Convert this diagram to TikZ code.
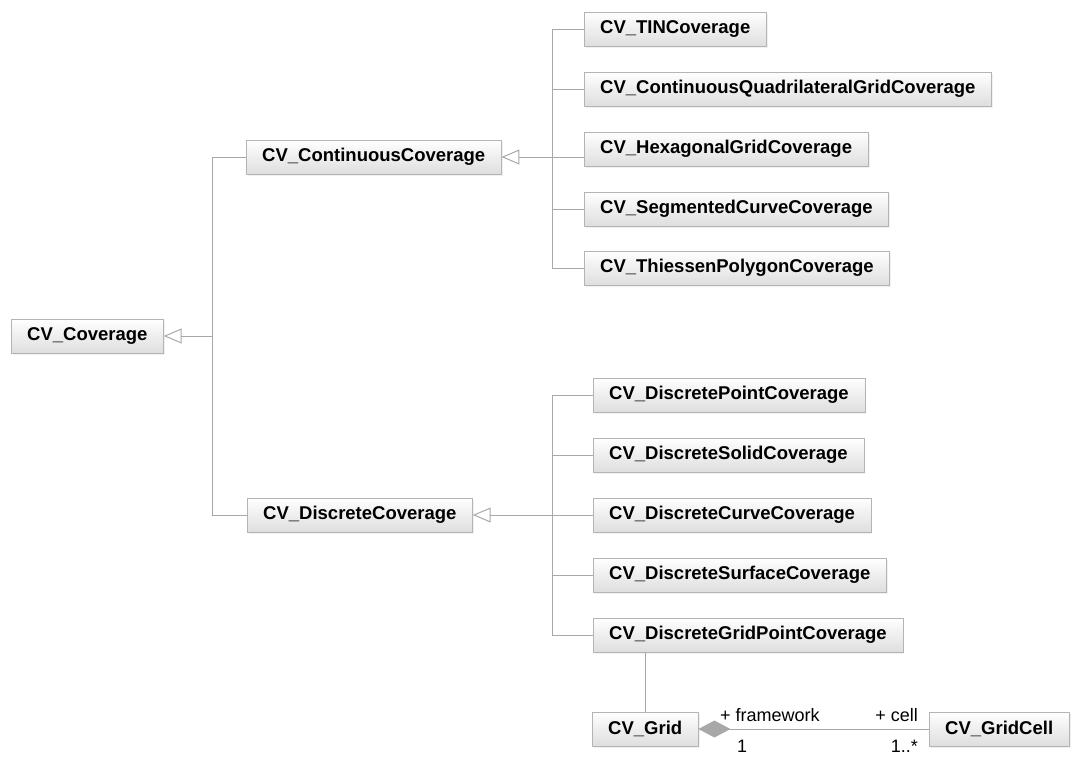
\documentclass[tikz,border=0pt]{standalone}
\usepackage{fontspec}
\setmainfont{Liberation Sans}
\usetikzlibrary{arrows.meta,shadows}
\definecolor{UML_Line}{HTML}{A8A8A8}
\definecolor{UML_Border}{HTML}{B4B4B4}

\begin{document}
\begin{tikzpicture}[x=1pt, y=-1pt,
    cls/.style={draw=UML_Border, top color=white, bottom color=black!13, anchor=west,
      minimum height=34pt, inner xsep=16pt, font=\fontsize{18.5}{20}\selectfont\bfseries,
      drop shadow={opacity=0.12, shadow xshift=1.5pt, shadow yshift=-1.5pt}},
    link/.style={draw=UML_Line, line width=1pt},
    gen/.style={link, -{Triangle[open, length=18pt, width=15pt]}},
    agg/.style={link, {Diamond[length=32pt, width=17pt]}-},
    role/.style={font=\fontsize{18}{20}\selectfont, inner sep=0pt}]
    \useasboundingbox (0,0) rectangle (1075,756);

    % Root class
    \node[cls] (cov) at (11,336) {CV\_Coverage};

    % Second level
    \node[cls] (ccov) at (246,157) {CV\_ContinuousCoverage};
    \node[cls] (dcov) at (247,515) {CV\_DiscreteCoverage};

    % Continuous coverages
    \node[cls] (tin)  at (584,29)  {CV\_TINCoverage};
    \node[cls] (cqgc) at (584,89)  {CV\_ContinuousQuadrilateralGridCoverage};
    \node[cls] (hex)  at (584,149) {CV\_HexagonalGridCoverage};
    \node[cls] (seg)  at (584,209) {CV\_SegmentedCurveCoverage};
    \node[cls] (thi)  at (584,268) {CV\_ThiessenPolygonCoverage};

    % Discrete coverages
    \node[cls] (dpt)  at (593,395) {CV\_DiscretePointCoverage};
    \node[cls] (dsol) at (593,455) {CV\_DiscreteSolidCoverage};
    \node[cls] (dcur) at (593,515) {CV\_DiscreteCurveCoverage};
    \node[cls] (dsrf) at (593,575) {CV\_DiscreteSurfaceCoverage};
    \node[cls] (dgp)  at (593,635) {CV\_DiscreteGridPointCoverage};

    % Grid
    \node[cls] (grid) at (592,729) {CV\_Grid};
    \node[cls] (cell) at (929,729) {CV\_GridCell};

    % Generalisation buses
    \coordinate (covbus)  at (212,336);
    \coordinate (ccovbus) at (552,157);
    \coordinate (dcovbus) at (552,515);

    \draw[gen] (covbus) -- (cov.east);
    \draw[link] (ccov.west) -- (ccov.west -| covbus) -- (dcov.west -| covbus) -- (dcov.west);

    \draw[gen] (ccovbus) -- (ccov.east);
    \draw[link] (tin.west) -- (tin.west -| ccovbus) -- (thi.west -| ccovbus) -- (thi.west);
    \foreach \n in {cqgc,seg}
        \draw[link] (\n.west) -- (\n.west -| ccovbus);
    \draw[link] (ccovbus) -- (ccovbus -| hex.west);

    \draw[gen] (dcovbus) -- (dcov.east);
    \draw[link] (dpt.west) -- (dpt.west -| dcovbus) -- (dgp.west -| dcovbus) -- (dgp.west);
    \foreach \n in {dsol,dsrf}
        \draw[link] (\n.west) -- (\n.west -| dcovbus);
    \draw[link] (dcovbus) -- (dcovbus -| dcur.west);

    % Grid point coverage to grid
    \draw[link] (grid.north) -- (grid.north |- dgp.south);

    % Aggregation
    \draw[agg, fill=UML_Line] (grid.east) -- (cell.west);
    \node[role, anchor=base west] (fwrole)   at (720,721) {+ framework};
    \node[role, anchor=base east] (cellrole) at (918,721) {+ cell};
    \node[role, anchor=base west] (fwmult)   at (737,752) {1};
    \node[role, anchor=base east] (cellmult) at (918,752) {1..*};

\end{tikzpicture}
\end{document}
